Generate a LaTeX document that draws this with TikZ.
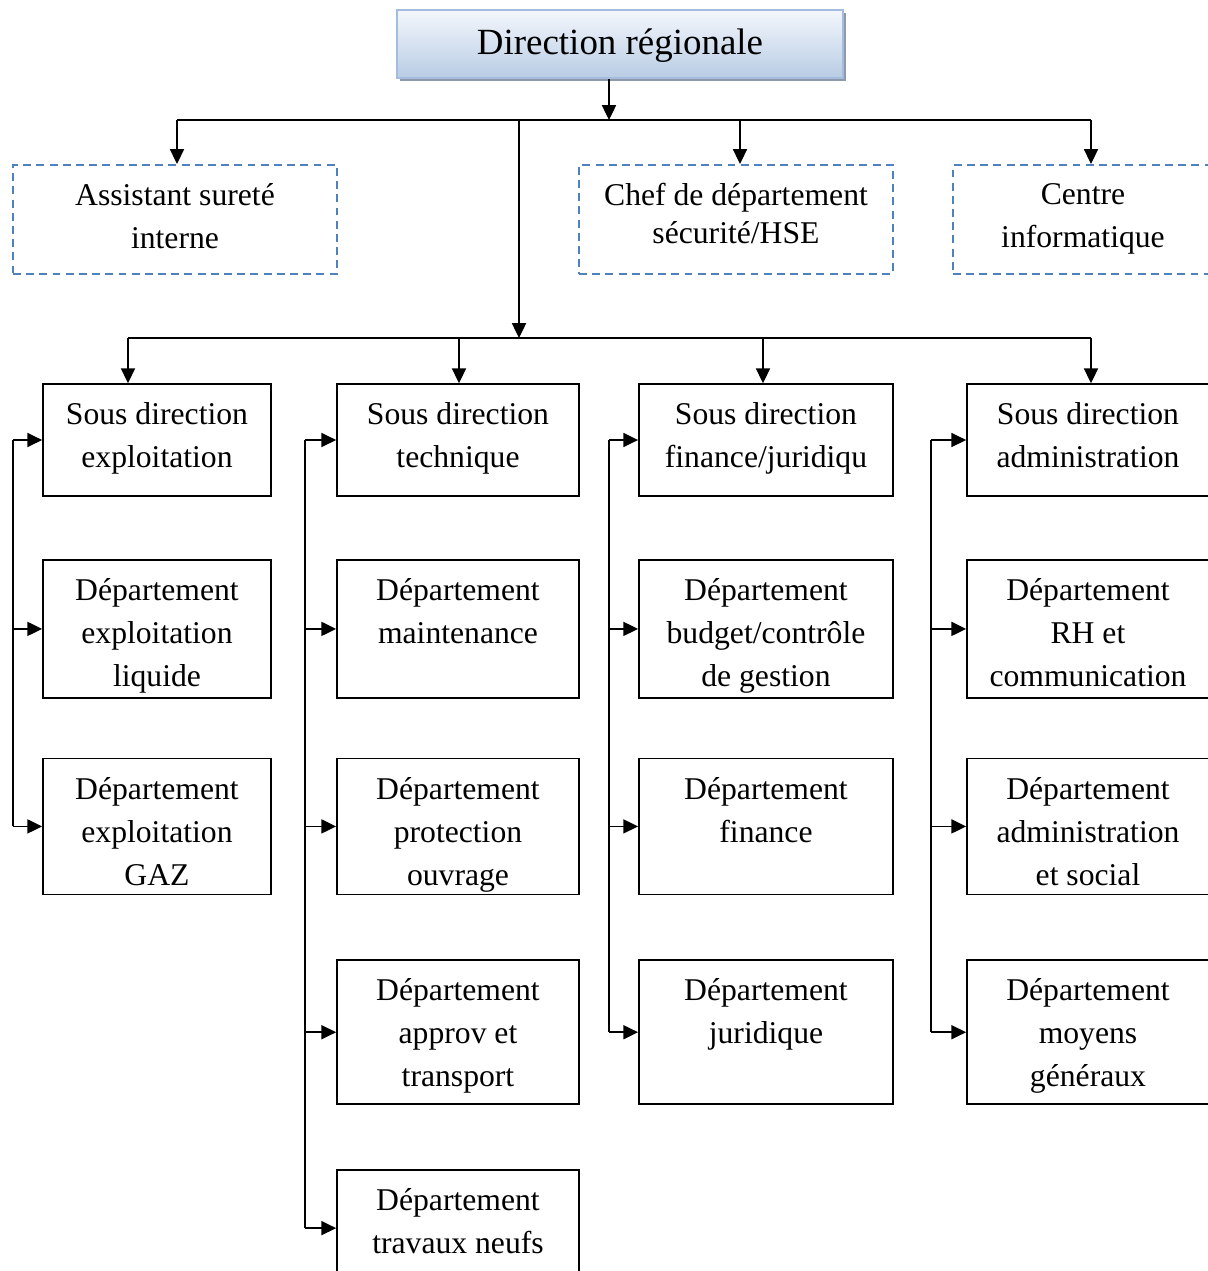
\documentclass[tikz,border=0pt]{standalone}
\usepackage{fontspec}
\setmainfont{Liberation Serif}
\usetikzlibrary{arrows.meta, positioning, shadows}

\definecolor{hseblue}{HTML}{4F81BD}
\definecolor{headtop}{HTML}{F4F7FC}
\definecolor{headbot}{HTML}{B8CCE4}
\definecolor{headline}{HTML}{A4BDDE}
\definecolor{headshadow}{HTML}{8E9AAC}

\begin{document}
\begin{tikzpicture}[
  x=0.379pt, y=-0.379pt,
  every node/.style={font=\fontsize{12}{16.3}\selectfont, align=center},
  head/.style ={rectangle, draw=headline, line width=1pt,
                top color=headtop, bottom color=headbot,
                minimum width=169pt, minimum height=25.8pt,
                font=\fontsize{14}{16}\selectfont,
                drop shadow={shadow xshift=1.2pt, shadow yshift=-1.2pt,
                             fill=headshadow, opacity=1}},
  staff/.style={rectangle, draw=hseblue, line width=0.8pt,
                dash pattern=on 3pt off 2pt, minimum height=41.3pt},
  unit/.style ={rectangle, draw, line width=0.65pt},
  exp/.style  ={unit, minimum width=86.4pt},
  tec/.style  ={unit, minimum width=91.7pt},
  fin/.style  ={unit, minimum width=96.3pt},
  adm/.style  ={unit, minimum width=91.7pt},
  txt/.style  ={inner sep=0pt, anchor=north},
  arr/.style  ={-{Triangle[length=5.6pt, width=5.3pt]}, line width=0.65pt},
  link/.style ={line width=0.65pt},
]
\clip (0,0) rectangle (1208,1271);

% Head
\node[head, text depth=2pt] (dir) at (620,44) {Direction régionale};

% Staff (dashed)
\node[staff, minimum width=122.8pt] (asr) at (175,219.5) {};
\node[txt, below=7.2pt of asr.north] (asr-t) {Assistant sureté\\interne};
\node[staff, minimum width=119pt]   (hse) at (736,219.5) {};
\node[txt, below=7.2pt of hse.north, font=\fontsize{12}{14.4}\selectfont]
  (hse-t) {Chef de département\\sécurité/HSE};
\node[staff, minimum width=98.5pt]  (inf) at (1083,219.5) {};
\node[txt, below=7.2pt of inf.north] (inf-t) {Centre\\informatique};

% Exploitation
\node[exp, minimum height=42.4pt] (sdx) at (157,440) {};
\node[exp, minimum height=52.3pt, below=23.6pt of sdx] (dxl) {};
\node[exp, minimum height=51.5pt, below=22.3pt of dxl] (dxg) {};
\node[txt, below=7.2pt of sdx.north] (sdx-t) {Sous direction\\exploitation};
\node[txt, below=7.2pt of dxl.north] (dxl-t) {Département\\exploitation\\liquide};
\node[txt, below=7.2pt of dxg.north] (dxg-t) {Département\\exploitation\\GAZ};

% Technique
\node[tec, minimum height=42.4pt] (sdt) at (458,440) {};
\node[tec, minimum height=52.3pt, below=23.6pt of sdt] (dmt) {};
\node[tec, minimum height=51.5pt, below=22.3pt of dmt] (dpo) {};
\node[tec, minimum height=54.6pt, below=24.3pt of dpo] (dat) {};
\node[tec, minimum height=44pt,   below=24.3pt of dat] (dtn) {};
\node[txt, below=7.2pt of sdt.north] (sdt-t) {Sous direction\\technique};
\node[txt, below=7.2pt of dmt.north] (dmt-t) {Département\\maintenance};
\node[txt, below=7.2pt of dpo.north] (dpo-t) {Département\\protection\\ouvrage};
\node[txt, below=7.2pt of dat.north] (dat-t) {Département\\approv et\\transport};
\node[txt, below=7.2pt of dtn.north] (dtn-t) {Département\\travaux neufs};

% Finance
\node[fin, minimum height=42.4pt] (sdf) at (766,440) {};
\node[fin, minimum height=52.3pt, below=23.6pt of sdf] (dbg) {};
\node[fin, minimum height=51.5pt, below=22.3pt of dbg] (dfi) {};
\node[fin, minimum height=54.6pt, below=24.3pt of dfi] (dju) {};
\node[txt, below=7.2pt of sdf.north] (sdf-t) {Sous direction\\finance/juridiqu};
\node[txt, below=7.2pt of dbg.north] (dbg-t) {Département\\budget/contrôle\\de gestion};
\node[txt, below=7.2pt of dfi.north] (dfi-t) {Département\\finance};
\node[txt, below=7.2pt of dju.north] (dju-t) {Département\\juridique};

% Administration
\node[adm, minimum height=42.4pt] (sda) at (1088,440) {};
\node[adm, minimum height=52.3pt, below=23.6pt of sda] (drh) {};
\node[adm, minimum height=51.5pt, below=22.3pt of drh] (das) {};
\node[adm, minimum height=54.6pt, below=24.3pt of das] (dmg) {};
\node[txt, below=7.2pt of sda.north] (sda-t) {Sous direction\\administration};
\node[txt, below=7.2pt of drh.north] (drh-t) {Département\\RH et\\communication};
\node[txt, below=7.2pt of das.north] (das-t) {Département\\administration\\et social};
\node[txt, below=7.2pt of dmg.north] (dmg-t) {Département\\moyens\\généraux};

% Bus lines
\coordinate (b1)  at (609,120);
\coordinate (b1l) at (177,120);
\coordinate (b1c) at (740,120);
\coordinate (b1r) at (1091,120);
\coordinate (b1m) at (519,120);
\coordinate (b2)  at (519,338);
\coordinate (b2a) at (128,338);
\coordinate (b2b) at (459,338);
\coordinate (b2c) at (763,338);
\coordinate (b2d) at (1091,338);
\coordinate (c1)  at (13,0);
\coordinate (c2)  at (305,0);
\coordinate (c3)  at (609,0);
\coordinate (c4)  at (931,0);

\draw[arr]  (dir.south -| b1) -- (b1);
\draw[link] (b1l) -- (b1r);
\draw[arr]  (b1l) -- (b1l |- asr.north);
\draw[arr]  (b1c) -- (b1c |- hse.north);
\draw[arr]  (b1r) -- (b1r |- inf.north);
\draw[arr]  (b1m) -- (b2);

\draw[link] (b2a) -- (b2d);
\draw[arr]  (b2a) -- (b2a |- sdx.north);
\draw[arr]  (b2b) -- (b2b |- sdt.north);
\draw[arr]  (b2c) -- (b2c |- sdf.north);
\draw[arr]  (b2d) -- (b2d |- sda.north);

% Side links
\draw[link] (sdx.west -| c1) -- (dxg.west -| c1);
\draw[arr]  (sdx.west -| c1) -- (sdx.west);
\draw[arr]  (dxl.west -| c1) -- (dxl.west);
\draw[arr]  (dxg.west -| c1) -- (dxg.west);

\draw[link] (sdt.west -| c2) -- (dtn.west -| c2);
\draw[arr]  (sdt.west -| c2) -- (sdt.west);
\draw[arr]  (dmt.west -| c2) -- (dmt.west);
\draw[arr]  (dpo.west -| c2) -- (dpo.west);
\draw[arr]  (dat.west -| c2) -- (dat.west);
\draw[arr]  (dtn.west -| c2) -- (dtn.west);

\draw[link] (sdf.west -| c3) -- (dju.west -| c3);
\draw[arr]  (sdf.west -| c3) -- (sdf.west);
\draw[arr]  (dbg.west -| c3) -- (dbg.west);
\draw[arr]  (dfi.west -| c3) -- (dfi.west);
\draw[arr]  (dju.west -| c3) -- (dju.west);

\draw[link] (sda.west -| c4) -- (dmg.west -| c4);
\draw[arr]  (sda.west -| c4) -- (sda.west);
\draw[arr]  (drh.west -| c4) -- (drh.west);
\draw[arr]  (das.west -| c4) -- (das.west);
\draw[arr]  (dmg.west -| c4) -- (dmg.west);

\end{tikzpicture}
\end{document}
